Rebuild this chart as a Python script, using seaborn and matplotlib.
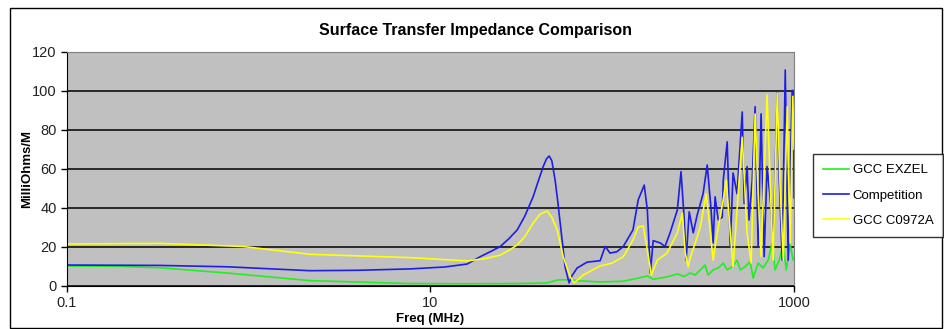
import pandas as pd
import matplotlib
matplotlib.use("Agg")
import matplotlib.pyplot as plt
from matplotlib.patches import Rectangle
import seaborn as sns

# values
freq_exzel = [0.1, 0.2, 0.325, 0.76, 2.17, 7.7, 15.9, 30, 43.8, 49.8, 58, 64.1, 85.8,
              115, 130, 156, 168, 200, 228, 249, 268, 286, 313, 324, 337, 359, 383,
              408, 429, 457, 486, 506, 538, 574, 596, 635, 676, 721, 758, 787, 829,
              873, 906, 953, 990, 1000]
val_exzel = [10, 9.8, 9.1, 6.4, 2.5, 1.0, 0.9, 1.0, 1.3, 2.8, 3.0, 2.5, 1.8,
             2.2, 3.2, 4.9, 3.2, 4.4, 5.9, 4.6, 6.4, 5.4, 9, 10.5, 5.4, 8, 9,
             11.5, 8, 9.6, 13, 8, 9.6, 12.2, 3.8, 11.5, 9, 13, 21.8, 8, 13,
             20.8, 8, 20.8, 13, 14]

freq_comp = [0.1, 0.325, 0.76, 2.17, 4, 7.7, 12, 15.9, 18.8, 21.5, 24.2, 27, 30, 33,
             36.7, 39, 41.7, 43.5, 45, 46.5, 48.5, 50, 51.7, 53.5, 55, 57.9, 60,
             64.1, 72.8, 85.8, 91.4, 97.3, 106, 115, 130, 139, 150, 156, 162, 168,
             184, 195, 208, 228, 239, 249, 255, 265, 279, 293, 316, 333, 350, 359,
             368, 383, 403, 408, 429, 446, 462, 486, 519, 532, 552, 566, 589, 611,
             635, 659, 685, 711, 748, 768, 809, 829, 861, 895, 929, 977, 990, 1000]
val_comp = [10.5, 10.3, 9.6, 7.6, 7.8, 8.5, 9.5, 11, 14.8, 17.5, 20, 24, 28.5, 35.5,
            45.5, 53, 61, 65, 66.4, 64, 54, 44, 32, 20, 9.6, 1.3, 5,
            9, 12, 12.7, 20, 16.6, 17.3, 20, 28.5, 44, 51.5, 38.7, 6.4, 23,
            21.8, 20, 27, 38.7, 58.4, 33.6, 13, 37.8, 27, 36, 47, 61.8, 38.7, 21.8,
            45.5, 33.6, 35, 54, 73.7, 20, 57.7, 47, 89, 42, 61, 33.6, 54, 91.7,
            20, 88, 14.8, 61, 40, 20, 99.4, 55.8, 13, 110.5, 13, 100, 100, 45]

freq_c0972 = [0.1, 0.325, 0.93, 2.17, 7.7, 15.9, 20, 24.2, 27, 30, 33, 36.7, 40, 43.8,
              46.5, 49.8, 53.7, 58.7, 61.7, 69.2, 85.8, 100, 115, 130, 139, 148, 156,
              164, 177, 200, 228, 243, 252, 262, 268, 286, 305, 329, 341, 359, 378,
              408, 424, 446, 462, 493, 519, 552, 581, 611, 635, 659, 711, 748, 768,
              809, 839, 873, 918, 953, 985, 1000]
val_c0972 = [21.3, 21.6, 20, 16, 14.3, 12.6, 13.8, 15.6, 18, 20.8, 25, 32, 36.5, 38.2,
             35, 28.5, 14.8, 4.5, 1.3, 5.4, 10, 11.5, 14.8, 23.3, 30, 30.5, 18,
             5.4, 13, 16.6, 27, 37, 16.6, 9.6, 14, 21.8, 30, 47, 33.6, 13, 27,
             44, 54, 27, 9.6, 47, 76, 27, 11.5, 88, 47, 14.8, 97.7, 40, 13,
             98.7, 50.7, 13, 91.7, 21.8, 97, 70]

names = ["GCC EXZEL", "Competition", "GCC C0972A"]
colors = {"GCC EXZEL": "#22EE22", "Competition": "#1E1EE6", "GCC C0972A": "#FFFF10"}

df = pd.concat([
    pd.DataFrame({"Freq": freq_exzel, "Val": val_exzel, "Series": names[0]}),
    pd.DataFrame({"Freq": freq_comp, "Val": val_comp, "Series": names[1]}),
    pd.DataFrame({"Freq": freq_c0972, "Val": val_c0972, "Series": names[2]}),
])

plt.rcParams["font.family"] = ["Liberation Sans", "DejaVu Sans"]

fig = plt.figure(figsize=(9.45, 3.29), dpi=100)
ax = fig.add_axes([67 / 945, 1 - 285.5 / 329, (794 - 67) / 945, (285.5 - 51.5) / 329])
ax.set_facecolor("#C0C0C0")

sns.lineplot(data=df, x="Freq", y="Val", hue="Series", palette=colors,
             hue_order=names, estimator=None, sort=False, linewidth=1.2, ax=ax)

ax.set_xscale("log")
ax.set_xlim(0.1, 1000)
ax.set_ylim(0, 120)
ax.set_xticks([0.1, 10, 1000])
ax.set_xticklabels(["0.1", "10", "1000"])
ax.xaxis.set_minor_locator(matplotlib.ticker.NullLocator())
ax.set_yticks(range(0, 121, 20))
ax.tick_params(labelsize=10.5, colors="black", length=4, direction="out", width=1)
for lab in ax.get_xticklabels() + ax.get_yticklabels():
    lab.set_color("#222222")
ax.grid(axis="y", color="black", linewidth=1.1)
ax.set_axisbelow(True)
for s in ["top", "right"]:
    ax.spines[s].set_color("#808080")
for s in ["left", "bottom"]:
    ax.spines[s].set_color("black")

ax.set_xlabel("Freq (MHz)", fontsize=9.5, fontweight="bold", labelpad=2)
ax.set_ylabel("MilliOhms/M", fontsize=9.5, fontweight="bold")
ax.yaxis.set_label_coords(-34 / 727, 0.5)
fig.text(476 / 945, 1 - 31 / 329, "Surface Transfer Impedance Comparison",
         ha="center", va="center", fontsize=11.5, fontweight="bold")

ax.get_legend().remove()
handles, labels = ax.get_legend_handles_labels()
leg = fig.legend(handles, labels, loc="upper left",
                 bbox_to_anchor=(813 / 945, 1 - 154 / 329), borderaxespad=0,
                 fontsize=9.5, frameon=True, fancybox=False, edgecolor="black",
                 handlelength=2.0, handletextpad=0.25, labelspacing=1.0,
                 borderpad=0.75)
leg.get_frame().set_linewidth(1)

fig.patches.append(Rectangle((10 / 945, 1 / 329), 932 / 945, 320 / 329,
                             transform=fig.transFigure, fill=False,
                             edgecolor="black", linewidth=1))

fig.savefig("out.png", dpi=100)
